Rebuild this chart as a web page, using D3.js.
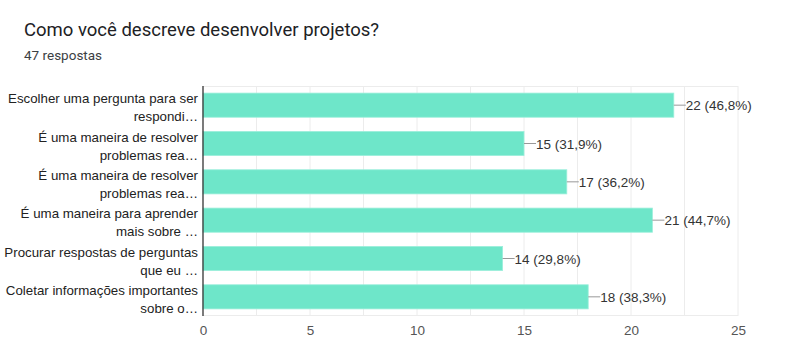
<!DOCTYPE html>
<html><head><meta charset="utf-8">
<script src="https://cdn.jsdelivr.net/npm/d3@7"></script>
<style>body{margin:0;background:#fff;}svg{display:block;}</style>
</head><body>
<svg id="c" width="800" height="364"></svg>
<script>
const title = "Como você descreve desenvolver projetos?";
const subtitle = "47 respostas";
const categories = [
  ["Escolher uma pergunta para ser", "respondi…"],
  ["É uma maneira de resolver", "problemas rea…"],
  ["É uma maneira de resolver", "problemas rea…"],
  ["É uma maneira para aprender", "mais sobre …"],
  ["Procurar respostas de perguntas", "que eu …"],
  ["Coletar informações importantes", "sobre o…"]
];
const values = [22, 15, 17, 21, 14, 18];
const valueLabels = ["22 (46,8%)", "15 (31,9%)", "17 (36,2%)", "21 (44,7%)", "14 (29,8%)", "18 (38,3%)"];
const tickValues = [0, 5, 10, 15, 20, 25];
const gridValues = [2.5, 5, 7.5, 10, 12.5, 15, 17.5, 20, 22.5, 25];

(function () {
const svg = d3.select("#c");
const pLeft = 203, pRight = 738, pTop = 86, pBottom = 316;
const font = "Liberation Sans, Arial, sans-serif";
const x = d3.scaleLinear().domain([0, 25]).range([pLeft, pRight]);
const y = d3.scaleBand().domain(d3.range(categories.length)).range([pTop, pBottom]).paddingInner(0.37).paddingOuter(0.185);

svg.append("text").attr("x", 24).attr("y", 36).attr("font-family", "Roboto, sans-serif")
  .attr("font-size", 18.5).attr("fill", "#202124").text(title);
svg.append("text").attr("x", 24).attr("y", 60).attr("font-family", "Roboto, sans-serif")
  .attr("font-size", 13.5).attr("fill", "#3c4043").text(subtitle);

// grid
svg.append("g").selectAll("line").data(gridValues).join("line")
  .attr("x1", d => x(d)).attr("x2", d => x(d)).attr("y1", pTop).attr("y2", pBottom)
  .attr("stroke", "#ececec").attr("stroke-width", 1);
svg.append("line").attr("x1", pLeft).attr("x2", pRight).attr("y1", pTop + 0.5).attr("y2", pTop + 0.5).attr("stroke", "#ececec");
svg.append("line").attr("x1", pLeft).attr("x2", pRight).attr("y1", pBottom - 0.5).attr("y2", pBottom - 0.5).attr("stroke", "#ececec");

// bars
svg.append("g").selectAll("rect").data(values).join("rect")
  .attr("x", x(0)).attr("y", (d, i) => y(i)).attr("width", d => x(d) - x(0)).attr("height", y.bandwidth())
  .attr("fill", "#6ee6c9").attr("stroke", "#9cefdb").attr("stroke-width", 0.8);

// leader lines + labels
const lab = svg.append("g");
values.forEach((v, i) => {
  const cy = y(i) + y.bandwidth() / 2;
  lab.append("line").attr("x1", x(v)).attr("x2", x(v) + 12).attr("y1", cy).attr("y2", cy)
    .attr("stroke", "#999").attr("stroke-width", 1);
  lab.append("text").attr("x", x(v) + 12).attr("y", cy + 5).attr("font-family", font)
    .attr("font-size", 13.5).attr("fill", "#333").text(valueLabels[i]);
});

// y labels
const yl = svg.append("g");
categories.forEach((c, i) => {
  const cy = y(i) + y.bandwidth() / 2;
  c.forEach((line, j) => {
    yl.append("text").attr("x", 198).attr("y", cy - 2 + j * 18).attr("text-anchor", "end")
      .attr("font-family", font).attr("font-size", 13.3).attr("fill", "#222").text(line);
  });
});

// x axis ticks
const xAxis = d3.axisBottom(x).tickValues(tickValues).tickSize(0).tickPadding(9);
const gx = svg.append("g").attr("transform", `translate(0,${pBottom})`).call(xAxis);
gx.select(".domain").remove();
gx.selectAll("text").attr("font-family", font).attr("font-size", 13.5).attr("fill", "#555");

// baseline
svg.append("line").attr("x1", pLeft).attr("x2", pLeft).attr("y1", pTop).attr("y2", pBottom)
  .attr("stroke", "#333").attr("stroke-width", 1.3);
})();
</script>
</body></html>
